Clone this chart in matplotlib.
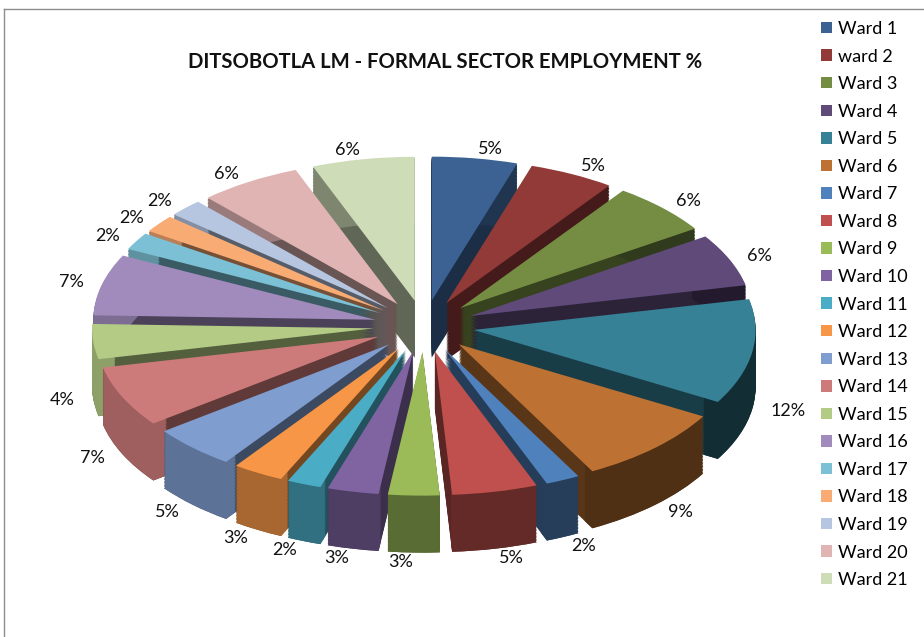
import numpy as np
import matplotlib
matplotlib.use("Agg")
import matplotlib.pyplot as plt
from matplotlib.patches import Patch
from matplotlib.lines import Line2D
from matplotlib.colors import to_rgb

plt.rcParams['font.family'] = ['Lato', 'DejaVu Sans']

# ---------------- data ----------------
wards = ["Ward 1", "ward 2", "Ward 3", "Ward 4", "Ward 5", "Ward 6", "Ward 7",
         "Ward 8", "Ward 9", "Ward 10", "Ward 11", "Ward 12", "Ward 13", "Ward 14",
         "Ward 15", "Ward 16", "Ward 17", "Ward 18", "Ward 19", "Ward 20", "Ward 21"]
values = [5, 5, 6, 6, 12, 9, 2, 5, 3, 3, 2, 3, 5, 7, 4, 7, 2, 2, 2, 6, 6]
pct_labels = [f"{v}%" for v in values]
title = "DITSOBOTLA LM - FORMAL SECTOR EMPLOYMENT %"

# ---------------- style ----------------
colors = ["#3b6293", "#913a37", "#748d43", "#5f4a7a", "#368196", "#bd7233",
          "#4f81bd", "#c0504d", "#9bbb59", "#8064a2", "#4bacc6", "#f79646",
          "#7f9dcf", "#cd7b7a", "#b3cb84", "#a08bbc", "#7bc0d4", "#f9ab74",
          "#b6c5e0", "#e0b4b3", "#cedcb8"]

def shade(c, f):
    r, g, b = to_rgb(c)
    return (r * f, g * f, b * f)

W, H = 924, 637
fig = plt.figure(figsize=(W / 100, H / 100), dpi=100)
ax = fig.add_axes([0, 0, 1, 1])

cx, cy = 424, 326       # pie centre (pixels from top-left)
rx, ry = 282, 144       # pixel size of unit radius
explode = 0.178
depth = 57 / ry
NL = 40
ring_w = 0.06

ex = [explode] * len(values)

# top faces (also gives angles)
top, _ = ax.pie(values, explode=ex, colors=colors, startangle=90,
                counterclock=False, labeldistance=None,
                wedgeprops=dict(linewidth=0))
mids = [np.deg2rad((w.theta1 + w.theta2) / 2) for w in top]
order = np.argsort([-np.sin(m) for m in mids])   # back first
rank = {i: r for r, i in enumerate(order)}

for i, w in enumerate(top):
    w.set_zorder(rank[i] * 1000 + 2 * NL + 5)

yoffs = np.linspace(-depth, 0, NL + 1)[:-1]
rad_cols = [shade(c, 0.47) for c in colors]
arc_cols = [shade(c, 0.57 - 0.22 * np.cos(m)) for c, m in zip(colors, mids)]

for l, yo in enumerate(yoffs):
    full, _ = ax.pie(values, explode=ex, colors=rad_cols, startangle=90,
                     counterclock=False, labeldistance=None, center=(0, yo),
                     wedgeprops=dict(linewidth=0))
    ring, _ = ax.pie(values, explode=ex, colors=arc_cols, startangle=90,
                     counterclock=False, labeldistance=None, center=(0, yo),
                     wedgeprops=dict(linewidth=0, width=ring_w))
    for i in range(len(values)):
        full[i].set_zorder(rank[i] * 1000 + l)
        ring[i].set_zorder(rank[i] * 1000 + NL + l + 1)

# percentage labels
L = 1.245
for i, m in enumerate(mids):
    c, s = np.cos(m), np.sin(m)
    x = L * c
    y = L * s - (depth if s < 0 else 0)
    ax.text(x, y, pct_labels[i], ha='left' if c >= 0 else 'right', va='center',
            fontsize=13, color='#111111', zorder=50000)

ax.set_aspect('auto')
ax.set_xlim(-cx / rx, (W - cx) / rx)
ax.set_ylim((cy - H) / ry, cy / ry)
ax.axis('off')

# title
fig.text(445 / W, 1 - 62 / H, title, ha='center', va='center',
         fontsize=14.6, fontweight='bold', color='#111111')

# legend
handles = [Patch(facecolor=c, edgecolor='none') for c in colors]
fig.legend(handles, wards, loc='upper left', bbox_to_anchor=(821 / W, 1 - 21 / H),
           frameon=False, fontsize=13, handlelength=0.6, handleheight=0.6,
           handletextpad=0.35, labelspacing=0.64, borderaxespad=0, borderpad=0)

# chart border
fig.add_artist(Line2D([4 / W, 4 / W], [0, 1 - 9 / H], color='#8c8c8c', lw=1))
fig.add_artist(Line2D([4 / W, 1], [1 - 9 / H, 1 - 9 / H], color='#8c8c8c', lw=1))

fig.savefig("out.png", dpi=100)
